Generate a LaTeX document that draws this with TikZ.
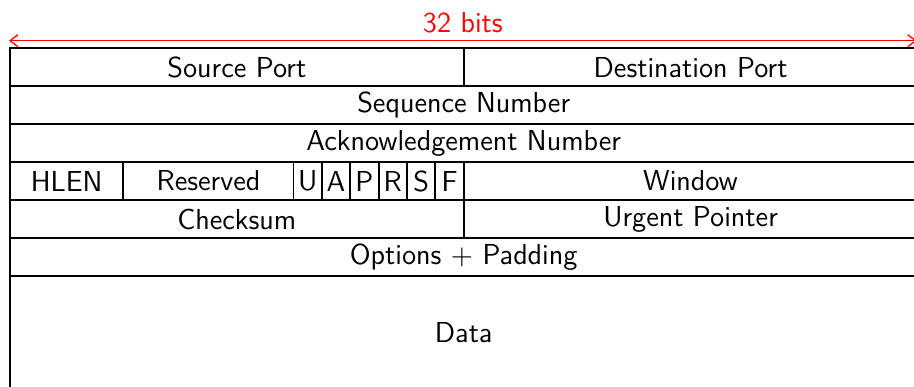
\documentclass[tikz,border=0pt]{standalone}
\usetikzlibrary{arrows.meta}
\renewcommand{\familydefault}{\sfdefault}
\begin{document}
\begin{tikzpicture}[x=10.907pt,y=14.596pt,font=\fontsize{11.1}{13}\selectfont]
		\tikzset{field/.style = {draw,line width=0.7pt,rectangle,inner sep=0pt,anchor=north west,minimum height=14.596pt,minimum width=#1*10.907pt}}
		\tikzset{span/.style = {{Straight Barb[length=3pt,width=4.6pt]}-{Straight Barb[length=3pt,width=4.6pt]},red,line width=0.5pt}}
		\useasboundingbox (-0.3174,1.2463) rectangle (31.909,-8.925);
		\coordinate (l) at (0,0.174);
		\coordinate (r) at (32,0.174);
		\path[span,draw] (l) -- node[above,inner sep=2.5pt] {32 bits} (r);
		\node[field=16] (src) at (0,0) {Source Port};
		\node[field=16] (dst) at (16,0) {Destination Port};
		\node[field=32] (seq) at (0,-1) {Sequence Number};
		\node[field=32] (ack) at (0,-2) {Acknowledgement Number};
		\node[field=4] (hlen) at (0,-3) {HLEN};
		\node[field=6] (rsv) at (4,-3) {Reserved};
		\node[field=1] (urg) at (10,-3) {U};
		\node[field=1] (akf) at (11,-3) {A};
		\node[field=1] (psh) at (12,-3) {P};
		\node[field=1] (rst) at (13,-3) {R};
		\node[field=1] (syn) at (14,-3) {S};
		\node[field=1] (fin) at (15,-3) {F};
		\node[field=16] (win) at (16,-3) {Window};
		\node[field=16] (chk) at (0,-4) {Checksum};
		\node[field=16] (uptr) at (16,-4) {Urgent Pointer};
		\node[field=32] (opt) at (0,-5) {Options $+$ Padding};
		\node[field=32,minimum height=3*14.596pt] (data) at (0,-6) {Data};
	\end{tikzpicture}
\end{document}
